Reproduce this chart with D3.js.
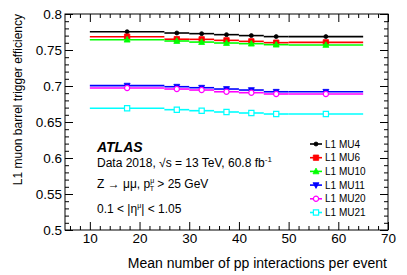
<!DOCTYPE html>
<html>
<head>
<meta charset="utf-8">
<script src="https://d3js.org/d3.v7.min.js"></script>
<style>
body { margin: 0; background: #fff; }
svg { font-family: "Liberation Sans", Arial, sans-serif; }
.axis path { stroke: #000; }
.axis line { stroke: #000; }
</style>
</head>
<body>
<div id="chart"></div>
<script>
// pile-up bins (mean number of pp interactions)
var binLow  = [10, 25, 30, 35, 40, 45, 50];
var binHigh = [25, 30, 35, 40, 45, 50, 65];
var binMid  = [17.5, 27.5, 32.5, 37.5, 42.5, 47.5, 57.5];

var seriesNames = ["L1 MU4", "L1 MU6", "L1 MU10", "L1 MU11", "L1 MU20", "L1 MU21"];
var mu4  = [0.7754, 0.7736, 0.7727, 0.7713, 0.7700, 0.7686, 0.7686];
var mu6  = [0.7685, 0.7650, 0.7648, 0.7634, 0.7620, 0.7602, 0.7606];
var mu10 = [0.7643, 0.7625, 0.7610, 0.7597, 0.7588, 0.7574, 0.7570];
var mu11 = [0.7005, 0.6990, 0.6976, 0.6958, 0.6944, 0.6920, 0.6920];
var mu20 = [0.6972, 0.6958, 0.6944, 0.6920, 0.6907, 0.6889, 0.6889];
var mu21 = [0.6690, 0.6671, 0.6657, 0.6639, 0.6625, 0.6611, 0.6611];

var yMajor = [0.5, 0.55, 0.6, 0.65, 0.7, 0.75, 0.8];
var xMajor = [10, 20, 30, 40, 50, 60, 70];

var styles = [
  {color: "#000000", shape: "circle",   fill: true,  size: 2.0},
  {color: "#ff0000", shape: "square",   fill: true,  size: 2.7},
  {color: "#00ff00", shape: "triUp",    fill: true,  size: 3.0},
  {color: "#0000ff", shape: "triDown",  fill: true,  size: 3.0},
  {color: "#ff00ff", shape: "circle",   fill: false, size: 2.6},
  {color: "#00ffff", shape: "square",   fill: false, size: 2.6}
];
var allSeries = [mu4, mu6, mu10, mu11, mu20, mu21];

var W = 407, H = 275;
var margin = {top: 14, left: 65, right: 19, bottom: 45},
    width  = W - margin.left - margin.right,
    height = H - margin.top  - margin.bottom;

var svg = d3.select("#chart").append("svg")
    .attr("width", W).attr("height", H);

var g = svg.append("g").attr("transform", "translate(" + margin.left + "," + margin.top + ")");

var x = d3.scaleLinear().domain([5, 70]).range([0, width]),
    y = d3.scaleLinear().domain([0.5, 0.8]).range([height, 0]);

var xMinor = d3.range(6, 70.01, 2).filter(function(v) { return v % 10 !== 0; });
var yMinor = d3.range(0.5, 0.8001, 0.01).filter(function(v) { return Math.abs(v * 20 - Math.round(v * 20)) > 1e-6; });

// minor ticks
g.append("g").attr("class", "axis")
  .call(d3.axisLeft(y).tickValues(yMinor).tickSize(-4).tickFormat(""))
  .select(".domain").remove();
g.append("g").attr("class", "axis")
  .attr("transform", "translate(" + width + ",0)")
  .call(d3.axisRight(y).tickValues(yMinor).tickSize(-4).tickFormat(""))
  .select(".domain").remove();
g.append("g").attr("class", "axis")
  .attr("transform", "translate(0," + height + ")")
  .call(d3.axisBottom(x).tickValues(xMinor).tickSize(-4).tickFormat(""))
  .select(".domain").remove();
g.append("g").attr("class", "axis")
  .call(d3.axisTop(x).tickValues(xMinor).tickSize(-4).tickFormat(""))
  .select(".domain").remove();

// major ticks
var yAxis = g.append("g").attr("class", "axis")
  .call(d3.axisLeft(y).tickValues(yMajor).tickSize(-8).tickPadding(3)
    .tickFormat(function(d) { return d3.format("")(+d.toFixed(2)); }));
yAxis.selectAll("text").attr("font-size", 13.5).attr("fill", "#000")
  .attr("font-family", "Liberation Sans, Arial, sans-serif");
yAxis.select(".domain").remove();

g.append("g").attr("class", "axis")
  .attr("transform", "translate(" + width + ",0)")
  .call(d3.axisRight(y).tickValues(yMajor).tickSize(-8).tickFormat(""))
  .select(".domain").remove();

var xAxis = g.append("g").attr("class", "axis")
  .attr("transform", "translate(0," + height + ")")
  .call(d3.axisBottom(x).tickValues(xMajor).tickSize(-8).tickPadding(3));
xAxis.selectAll("text").attr("font-size", 13.5).attr("fill", "#000")
  .attr("font-family", "Liberation Sans, Arial, sans-serif");
xAxis.select(".domain").remove();

g.append("g").attr("class", "axis")
  .call(d3.axisTop(x).tickValues(xMajor).tickSize(-8).tickFormat(""))
  .select(".domain").remove();

// frame
g.append("rect").attr("width", width).attr("height", height)
  .attr("fill", "none").attr("stroke", "#000").attr("stroke-width", 1);

function markerPath(shape, s) {
  if (shape === "square") return "M" + (-s) + "," + (-s) + "h" + (2 * s) + "v" + (2 * s) + "h" + (-2 * s) + "Z";
  if (shape === "triUp") return "M0," + (-s * 1.1) + "L" + s + "," + (s * 0.8) + "L" + (-s) + "," + (s * 0.8) + "Z";
  if (shape === "triDown") return "M0," + (s * 1.1) + "L" + s + "," + (-s * 0.8) + "L" + (-s) + "," + (-s * 0.8) + "Z";
  return null;
}

function drawMarker(sel, st) {
  if (st.shape === "circle") {
    sel.append("circle").attr("r", st.size)
      .attr("fill", st.fill ? st.color : "#fff")
      .attr("stroke", st.color).attr("stroke-width", st.fill ? 0.8 : 1.2);
  } else {
    sel.append("path").attr("d", markerPath(st.shape, st.size))
      .attr("fill", st.fill ? st.color : "#fff")
      .attr("stroke", st.color).attr("stroke-width", st.fill ? 0.8 : 1.2);
  }
}

// series
allSeries.forEach(function(vals, k) {
  var st = styles[k];
  var sg = g.append("g");
  sg.selectAll("line.err").data(vals).enter().append("line")
    .attr("class", "err")
    .attr("x1", function(d, i) { return x(binLow[i]); })
    .attr("x2", function(d, i) { return x(binHigh[i]); })
    .attr("y1", function(d) { return y(d); })
    .attr("y2", function(d) { return y(d); })
    .attr("stroke", st.color).attr("stroke-width", 1.6);
  vals.forEach(function(d, i) {
    var m = sg.append("g").attr("transform", "translate(" + x(binMid[i]) + "," + y(d) + ")");
    drawMarker(m, st);
  });
});

// legend
var leg = svg.append("g").attr("transform", "translate(316,144)");
seriesNames.forEach(function(name, k) {
  var st = styles[k];
  var row = leg.append("g").attr("transform", "translate(0," + (k * 13.7) + ")");
  row.append("line").attr("x1", -6).attr("x2", 6).attr("stroke", st.color).attr("stroke-width", 1.6);
  drawMarker(row, st);
  row.append("text").attr("x", 9).attr("y", 3.5).attr("font-size", 10).attr("fill", "#000").text(name);
});

// labels
svg.append("text")
  .attr("transform", "translate(22," + margin.top + ") rotate(-90)")
  .attr("text-anchor", "end").attr("font-size", 12).attr("fill", "#000")
  .text("L1 muon barrel trigger efficiency");

svg.append("text")
  .attr("x", margin.left + width - 1).attr("y", 268)
  .attr("text-anchor", "end").attr("font-size", 14).attr("fill", "#000")
  .text("Mean number of pp interactions per event");

svg.append("text").attr("x", 97).attr("y", 152)
  .attr("font-size", 14).attr("font-weight", "bold").attr("font-style", "italic")
  .text("ATLAS");

var t1 = svg.append("text").attr("x", 97).attr("y", 167).attr("font-size", 12);
t1.append("tspan").text("Data 2018, \u221As = 13 TeV, 60.8 fb");
t1.append("tspan").attr("dy", -5).attr("font-size", 8).text("-1");

var t2 = svg.append("text").attr("x", 97).attr("y", 188).attr("font-size", 12);
t2.append("tspan").text("Z \u2192 \u03bc\u03bc, p");
t2.append("tspan").attr("dy", -5).attr("font-size", 7).text("\u03bc");
t2.append("tspan").attr("dx", -4.5).attr("dy", 8).attr("font-size", 7).text("T");
t2.append("tspan").attr("dy", -3).text(" > 25 GeV");

var t3 = svg.append("text").attr("x", 97).attr("y", 213).attr("font-size", 12);
t3.append("tspan").text("0.1 < |\u03b7");
t3.append("tspan").attr("dy", -5).attr("font-size", 7).text("\u03bc");
t3.append("tspan").attr("dy", 5).text("| < 1.05");
</script>
</body>
</html>
